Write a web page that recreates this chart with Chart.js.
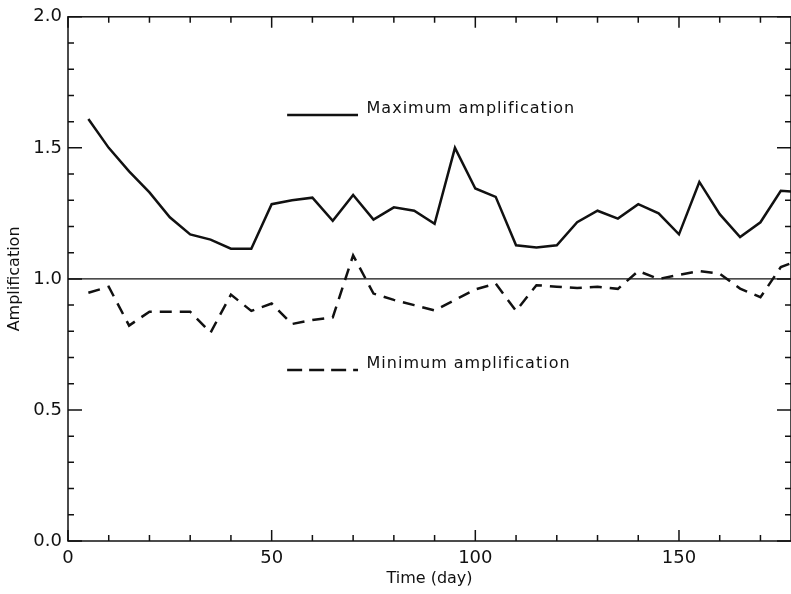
<!DOCTYPE html>
<html>
<head>
<meta charset="utf-8">
<script src="https://cdn.jsdelivr.net/npm/chart.js@4.4.1/dist/chart.umd.min.js"></script>
<style>
  html, body { margin: 0; padding: 0; background: #fff; }
  canvas { display: block; }
</style>
</head>
<body>
<canvas id="ampChart" width="791" height="594"></canvas>
<script>
// Data (time in days, amplification factor)
const days = [5, 10, 15, 20, 25, 30, 35, 40, 45, 50, 55, 60, 65, 70, 75, 80, 85, 90,
  95, 100, 105, 110, 115, 120, 125, 130, 135, 140, 145, 150, 155, 160, 165, 170, 175, 180];
const maxAmp = [1.61, 1.50, 1.41, 1.33, 1.235, 1.17, 1.15, 1.115, 1.115, 1.285, 1.30, 1.31,
  1.222, 1.32, 1.226, 1.273, 1.26, 1.21, 1.50, 1.345, 1.313, 1.128, 1.12, 1.128, 1.216,
  1.26, 1.23, 1.285, 1.25, 1.17, 1.37, 1.247, 1.16, 1.216, 1.336, 1.33];
const minAmp = [0.947, 0.97, 0.822, 0.875, 0.875, 0.875, 0.795, 0.94, 0.878, 0.906, 0.828,
  0.843, 0.853, 1.09, 0.944, 0.92, 0.90, 0.88, 0.92, 0.96, 0.982, 0.878, 0.976, 0.97,
  0.965, 0.97, 0.962, 1.03, 1.00, 1.015, 1.03, 1.02, 0.963, 0.93, 1.045, 1.075];
const refLevel = 1.0;
const seriesNames = ["Maximum amplification", "Minimum amplification"];
const xTicks = [0, 50, 100, 150];
const yTicks = [0.0, 0.5, 1.0, 1.5, 2.0];

const FONT = "'DejaVu Sans', sans-serif";
const INK = "#111";

function toPoints(ys) {
  return days.map((d, i) => ({ x: d, y: ys[i] }));
}

// Box frame, inward ticks on all four sides and the in-plot key
const framePlugin = {
  id: "frame",
  afterDatasetsDraw(chart) {
    const { ctx, chartArea: a, scales } = chart;
    const xs = scales.x, ys = scales.y;
    ctx.save();
    ctx.strokeStyle = INK;
    ctx.lineWidth = 1.5;
    ctx.strokeRect(a.left, a.top, a.right - a.left, a.bottom - a.top);

    // y ticks every 0.1, major every 0.5
    for (let v = 0; v <= 20; v++) {
      const py = ys.getPixelForValue(v / 10);
      const len = v % 5 === 0 ? 14 : 6;
      ctx.beginPath();
      ctx.moveTo(a.left, py); ctx.lineTo(a.left + len, py);
      ctx.moveTo(a.right, py); ctx.lineTo(a.right - len, py);
      ctx.stroke();
    }
    // x ticks every 10, major every 50
    for (let v = 0; v <= xs.max; v += 10) {
      const px = xs.getPixelForValue(v);
      const len = v % 50 === 0 ? 11 : 6;
      ctx.beginPath();
      ctx.moveTo(px, a.bottom); ctx.lineTo(px, a.bottom - len);
      ctx.moveTo(px, a.top); ctx.lineTo(px, a.top + len);
      ctx.stroke();
    }

    // key, placed in data coordinates
    const keys = [
      { y: 1.625, dash: [], name: seriesNames[0] },
      { y: 0.652, dash: [15, 7], name: seriesNames[1] }
    ];
    ctx.font = "16px " + FONT;
    ctx.letterSpacing = "1px";
    ctx.fillStyle = INK;
    ctx.textBaseline = "middle";
    keys.forEach(k => {
      const py = ys.getPixelForValue(k.y);
      ctx.lineWidth = 2.5;
      ctx.setLineDash(k.dash);
      ctx.beginPath();
      ctx.moveTo(xs.getPixelForValue(53.8), py);
      ctx.lineTo(xs.getPixelForValue(71.2), py);
      ctx.stroke();
      ctx.setLineDash([]);
      ctx.fillText(k.name, xs.getPixelForValue(73.3), py - 6);
    });
    ctx.restore();
  }
};

new Chart(document.getElementById("ampChart"), {
  type: "line",
  data: {
    datasets: [
      {
        label: seriesNames[0],
        data: toPoints(maxAmp),
        borderColor: INK, borderWidth: 2.5, pointRadius: 0, tension: 0
      },
      {
        label: seriesNames[1],
        data: toPoints(minAmp),
        borderColor: INK, borderWidth: 2.5, borderDash: [12, 8], pointRadius: 0, tension: 0
      },
      {
        label: "ref",
        data: [{ x: 0, y: refLevel }, { x: 180, y: refLevel }],
        borderColor: INK, borderWidth: 1.2, pointRadius: 0
      }
    ]
  },
  options: {
    responsive: false,
    animation: false,
    layout: { padding: { top: 12, right: 0, left: 0, bottom: 0 } },
    plugins: { legend: { display: false }, tooltip: { enabled: false } },
    scales: {
      x: {
        type: "linear", min: 0, max: 177.5,
        grid: { display: false, drawTicks: false }, border: { display: false },
        afterFit: s => { s.height = 53; },
        afterBuildTicks: s => { s.ticks = xTicks.map(v => ({ value: v })); },
        ticks: { color: INK, font: { family: FONT, size: 18 }, padding: 7, maxRotation: 0 },
        title: { display: true, text: "Time (day)", color: INK, font: { family: FONT, size: 16 }, padding: { top: 0, bottom: 6 } }
      },
      y: {
        min: 0, max: 2.0,
        grid: { display: false, drawTicks: false }, border: { display: false },
        afterFit: s => { s.width = 68; },
        afterBuildTicks: s => { s.ticks = yTicks.map(v => ({ value: v })); },
        ticks: { color: INK, font: { family: FONT, size: 18 }, padding: 6, callback: v => v.toFixed(1) },
        title: { display: true, text: "Amplification", color: INK, font: { family: FONT, size: 16 }, padding: { top: 5, bottom: 0 } }
      }
    }
  },
  plugins: [framePlugin]
});
</script>
</body>
</html>
